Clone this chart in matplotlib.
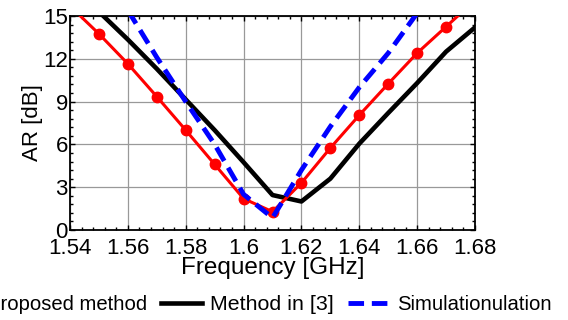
import matplotlib
matplotlib.use("Agg")
import matplotlib.pyplot as plt
from matplotlib.ticker import AutoMinorLocator

plt.rcParams['font.family'] = ['Liberation Sans', 'DejaVu Sans']

# Data
freq_proposed = [1.54, 1.55, 1.56, 1.57, 1.58, 1.59, 1.60, 1.61, 1.62, 1.63, 1.64, 1.65, 1.66, 1.67, 1.68]
ar_proposed = [15.7, 13.75, 11.65, 9.35, 7.0, 4.6, 2.2, 1.28, 3.3, 5.75, 8.05, 10.25, 12.4, 14.25, 16.1]

freq_method3 = [1.55, 1.56, 1.57, 1.58, 1.59, 1.60, 1.61, 1.62, 1.63, 1.64, 1.65, 1.66, 1.67, 1.68]
ar_method3 = [15.3, 13.35, 11.3, 9.15, 7.0, 4.75, 2.45, 2.0, 3.6, 6.05, 8.2, 10.3, 12.5, 14.2]

freq_sim = [1.56, 1.57, 1.58, 1.59, 1.60, 1.61, 1.62, 1.63, 1.64, 1.65, 1.66]
ar_sim = [15.4, 12.1, 9.0, 6.0, 2.5, 0.85, 4.2, 7.25, 10.0, 12.4, 15.2]

xticks = [1.54, 1.56, 1.58, 1.60, 1.62, 1.64, 1.66, 1.68]
xticklabels = ["1.54", "1.56", "1.58", "1.6", "1.62", "1.64", "1.66", "1.68"]
yticks = [0, 3, 6, 9, 12, 15]

labels = ["Proposed method", "Method in [3]", "Simulationulation"]

fig = plt.figure(figsize=(5.68, 3.2), dpi=100)
ax = fig.add_axes([70/568, 1-230/320, 405/568, 214/320])

l1, = ax.plot(freq_proposed, ar_proposed, color='#ff0000', lw=2.2, marker='o', markersize=7.5,
              label=labels[0], zorder=4)
l2, = ax.plot(freq_method3, ar_method3, color='black', lw=3.3, label=labels[1], zorder=3)
l3, = ax.plot(freq_sim, ar_sim, color='#0000ff', lw=3.5, dashes=(3.2, 1.6), label=labels[2], zorder=5)

ax.set_xlim(1.54, 1.68)
ax.set_ylim(0, 15)
ax.set_xticks(xticks)
ax.set_xticklabels(xticklabels)
ax.set_yticks(yticks)
ax.xaxis.set_minor_locator(AutoMinorLocator(5))
ax.yaxis.set_minor_locator(AutoMinorLocator(5))
ax.tick_params(which='both', direction='in', top=True, right=True, labelsize=16, width=1)
ax.tick_params(axis='x', pad=5.5)
ax.tick_params(axis='y', pad=1.5)
ax.tick_params(which='major', length=3.5)
ax.tick_params(which='minor', length=2.2)
ax.grid(True, which='major', color='#999999', lw=0.9)
for s in ax.spines.values():
    s.set_linewidth(1.3)

ax.set_xlabel("Frequency [GHz]", fontsize=17.5, labelpad=-1.5)
ax.set_ylabel("AR [dB]", fontsize=16, labelpad=0)

leg = fig.legend([l1, l2, l3], labels, loc='center left', bbox_to_anchor=(-62/568, 1-305/320),
                 ncol=3, frameon=False, borderpad=0, borderaxespad=0, handlelength=2.0,
                 handletextpad=0.4, columnspacing=0.72, fontsize=14.6)
t = leg.get_texts()[1]
t.set_fontsize(15.4)

fig.savefig("out.png", dpi=100)
